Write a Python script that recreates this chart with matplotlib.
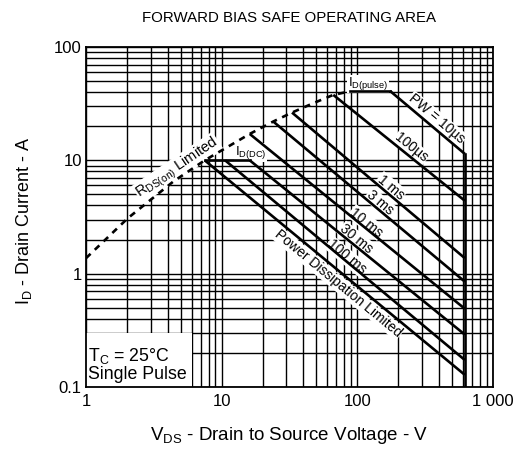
import numpy as np
import matplotlib
matplotlib.use("Agg")
import matplotlib.pyplot as plt
from matplotlib.ticker import FixedLocator, LogLocator, NullFormatter
from matplotlib.patches import Rectangle

plt.rcParams['font.family'] = ['Liberation Sans', 'DejaVu Sans']
plt.rcParams['mathtext.fontset'] = 'custom'
plt.rcParams['mathtext.rm'] = 'Liberation Sans'
plt.rcParams['mathtext.it'] = 'Liberation Sans'

# ---------------- data ----------------
# RDS(on) limit (dashed)
rds_v = [1, 2.03, 4.4, 7.5, 16.1, 24, 33, 47.3, 66.5, 88]
rds_i = [1.37, 3.08, 6.5, 10.0, 17.1, 22, 26.4, 31.9, 37.8, 40.6]

# current limits
id_pulse = 41.0
id_pulse_v = [88, 174]
id_dc = 10.0
id_dc_v = [7.5, 16.1]

# breakdown voltage limit
bv_v = 620

# pulse-width lines: start point and current at BV
pw_names = ['10 µs', '100 µs', '1 ms', '3 ms', '10 ms', '30 ms', '100 ms', 'DC']
pw_start_v = [174, 66.5, 33, 24, 16.1, 16.1, 10.6, 7.5]
pw_start_i = [41, 37.8, 26.4, 22, 17.1, 10, 10, 10]
pw_end_i = [11.4, 4.4, 1.37, 0.85, 0.49, 0.29, 0.173, 0.128]

# label positions (V, I)
pw_label_text = ['PW = 10µs', '100µs', '1 ms', '3 ms', '10 ms', '30 ms', '100 ms',
                 'Power Dissipation Limited']
pw_label_v = [384, 248, 177, 147, 117, 98.5, 83.3, 72.2]
pw_label_i = [23.2, 12.9, 5.8, 4.2, 2.83, 2.02, 1.41, 0.82]

x_ticks = [1, 10, 100, 1000]
x_ticklabels = ['1', '10', '100', '1 000']
y_ticks = [0.1, 1, 10, 100]
y_ticklabels = ['0.1', '1', '10', '100']

# ---------------- figure ----------------
W, H = 519, 450
fig = plt.figure(figsize=(W / 100, H / 100), dpi=100)
ax = fig.add_axes([86 / W, 1 - 387 / H, (493 - 86) / W, (387 - 47) / H])
ax.set_xscale('log')
ax.set_yscale('log')
ax.set_xlim(1, 1000)
ax.set_ylim(0.1, 100)

ax.xaxis.set_major_locator(FixedLocator(x_ticks))
ax.set_xticklabels(x_ticklabels)
ax.yaxis.set_major_locator(FixedLocator(y_ticks))
ax.set_yticklabels(y_ticklabels)
ax.xaxis.set_minor_locator(LogLocator(base=10, subs=np.arange(2, 10)))
ax.yaxis.set_minor_locator(LogLocator(base=10, subs=np.arange(2, 10)))
ax.xaxis.set_minor_formatter(NullFormatter())
ax.yaxis.set_minor_formatter(NullFormatter())
ax.tick_params(which='both', length=0, labelsize=12)
ax.tick_params(axis='x', pad=5)
ax.tick_params(axis='y', pad=3)
ax.grid(which='both', color='black', lw=1.0, zorder=0)
ax.set_axisbelow(True)
for s in ax.spines.values():
    s.set_linewidth(1.3)
    s.set_zorder(6)

lw = 1.9
# dashed RDS(on)
ax.plot(rds_v, rds_i, color='black', lw=lw, ls=(0, (2.4, 2.2)), zorder=4)
# ID(pulse) and ID(DC) flats
ax.plot(id_pulse_v, [id_pulse, id_pulse], color='black', lw=lw, zorder=4)
ax.plot(id_dc_v, [id_dc, id_dc], color='black', lw=lw, zorder=4)
# pulse lines
for sv, si, ei in zip(pw_start_v, pw_start_i, pw_end_i):
    ax.plot([sv, bv_v], [si, ei], color='black', lw=lw, zorder=4,
            solid_capstyle='butt')
# BV vertical
ax.plot([bv_v, bv_v], [0.1, pw_end_i[0]], color='black', lw=lw, zorder=4)

fig.canvas.draw()


def screen_angle(v0, i0, v1, i1):
    p0 = ax.transData.transform((v0, i0))
    p1 = ax.transData.transform((v1, i1))
    return np.degrees(np.arctan2(p1[1] - p0[1], p1[0] - p0[0]))


box = dict(facecolor='white', edgecolor='none', pad=0.6)
fs_lab = 10
for k, (t, lv, li) in enumerate(zip(pw_label_text, pw_label_v, pw_label_i)):
    ang = screen_angle(pw_start_v[k], pw_start_i[k], bv_v, pw_end_i[k])
    ax.text(lv, li, t, rotation=ang, rotation_mode='anchor', ha='center',
            va='center', fontsize=fs_lab, bbox=box, zorder=3)

ang_r = screen_angle(4.4, 6.5, 7.5, 10.0)
ax.text(4.72, 8.6, r'R$_{\mathrm{DS(on)}}$ Limited', rotation=ang_r,
        rotation_mode='anchor', ha='center', va='center', fontsize=fs_lab + 0.5,
        bbox=box, zorder=3)
ax.text(12.5, 11.7, r'I$_{\mathrm{D(DC)}}$', ha='left', va='center',
        fontsize=9.5, bbox=box, zorder=3)
ax.text(85, 47.2, r'I$_{\mathrm{D(pulse)}}$', ha='left', va='center',
        fontsize=9.5, bbox=box, zorder=3)

# condition box
cond_v = (1, 6)
cond_i = (0.1, 0.3)
ax.add_patch(Rectangle((cond_v[0], cond_i[0]), cond_v[1] - cond_v[0],
                       cond_i[1] - cond_i[0], facecolor='white',
                       edgecolor='none', zorder=2))
ax.text(1.03, 0.108, 'T$_{\\mathrm{C}}$ = 25°C\nSingle Pulse', ha='left',
        va='bottom', fontsize=12.8, linespacing=1.0, zorder=3)

ax.set_xlabel(r'V$_{\mathrm{DS}}$ - Drain to Source Voltage - V', fontsize=13.5)
ax.set_ylabel(r'I$_{\mathrm{D}}$ - Drain Current - A', fontsize=13)
ax.xaxis.set_label_coords(0.5, (387 - 425) / 340)
ax.yaxis.set_label_coords((34 - 86) / 407, 0.49)
fig.text(289.5 / W, 1 - 18 / H, 'FORWARD BIAS SAFE OPERATING AREA',
         ha='center', va='center', fontsize=10.8)

fig.savefig('out.png', dpi=100)
